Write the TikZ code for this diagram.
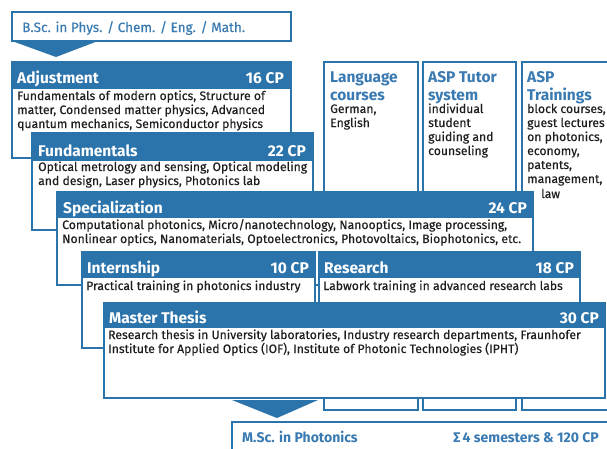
\documentclass[tikz,border=0pt]{standalone}
\usepackage{fontspec}
\setmainfont{Fira Sans}
\newfontfamily\medfont{Fira Sans}[FakeBold=0.35]
\definecolor{asp}{HTML}{2B73AB}
\definecolor{asptxt}{HTML}{3A7AB2}
\definecolor{bodytxt}{HTML}{1E1E1E}
\begin{document}
\begin{tikzpicture}[x=1pt,y=-1pt,
  frame/.style={draw=asp,line width=1.6pt,fill=white,anchor=north west,inner sep=0,outer sep=0},
  hdr/.style={fill=asp,draw=asp,line width=1.6pt,anchor=north west,inner sep=0,outer sep=0},
  ttl/.style={anchor=base west,inner sep=0,text=white,font=\bfseries\fontsize{15.5}{15.5}\selectfont},
  cp/.style={anchor=base east,inner sep=0,text=white,font=\bfseries\fontsize{15.5}{15.5}\selectfont},
  bd/.style={anchor=base west,inner sep=0,text=bodytxt,align=left,font=\medfont\fontsize{12.2}{14}\selectfont},
  ctl/.style={anchor=base west,inner sep=0,text=asptxt,align=left,font=\bfseries\fontsize{15.5}{18}\selectfont},
]
\useasboundingbox (0,0) rectangle (607,448);
% side columns (anchor base = baseline of the last line)
\node[frame,minimum width=94,minimum height=348] (lang) at (324,62) {};
\node[frame,minimum width=93,minimum height=348] (tutor) at (423,62) {};
\node[frame,minimum width=95,minimum height=348] (train) at (522,62) {};
\node[ctl] (langt) at (330,100) {Language\\courses};
\node[bd] (langb) at (330,127) {German,\\English};
\node[ctl] (tutt) at (428,100) {ASP Tutor\\system};
\node[bd] (tutb) at (428,155) {individual\\student\\guiding and\\counseling};
\node[ctl] (trt) at (527,100) {ASP\\Trainings};
\node[bd] (trb) at (527,183) {block courses,\\guest lectures\\on photonics,\\economy,\\patents,\\management,};
\node[bd] (trlaw) at (541,198) {law};
% BSc
\node[frame,minimum width=279,minimum height=29] (bsc) at (12,12) {};
\node[anchor=base west,inner sep=0,text=asptxt,font=\medfont\fontsize{13.5}{13.5}\selectfont] (bsct) at (22,32) {B.Sc. in Phys. / Chem. / Eng. / Math.};
\fill[asp] (bsc.south west) -- ++(86,0) -- ++(-42,16) -- cycle;
% Adjustment
\node[frame,minimum width=279,minimum height=96] (adj) at (12,62) {};
\node[hdr,minimum width=279,minimum height=26] (adjh) at (12,62) {};
\node[ttl] (adjt) at (17,83) {Adjustment};
\node[cp] (adjc) at (284,83) {16 CP};
\node[bd] (adjb) at (17,128) {Fundamentals of modern optics, Structure of\\matter, Condensed matter physics, Advanced\\quantum mechanics, Semiconductor physics};
% Fundamentals
\node[frame,minimum width=281,minimum height=97] (fun) at (32,133) {};
\node[hdr,minimum width=281,minimum height=27] (funh) at (32,133) {};
\node[ttl] (funt) at (38,156) {Fundamentals};
\node[cp] (func) at (306,156) {22 CP};
\node[bd] (funb) at (38,185) {Optical metrology and sensing, Optical modeling\\and design, Laser physics, Photonics lab};
% Specialization
\node[frame,minimum width=476,minimum height=93] (spe) at (57,192) {};
\node[hdr,minimum width=476,minimum height=25] (speh) at (57,192) {};
\node[ttl] (spet) at (63,213) {Specialization};
\node[cp] (spec) at (527,213) {24 CP};
\node[bd] (speb) at (62,243) {Computational photonics, Micro/nanotechnology, Nanooptics, Image processing,\\Nonlinear optics, Nanomaterials, Optoelectronics, Photovoltaics, Biophotonics, etc.};
% Internship
\node[frame,minimum width=233,minimum height=96] (int) at (82,252) {};
\node[hdr,minimum width=233,minimum height=25] (inth) at (82,252) {};
\node[ttl] (intt) at (87,273) {Internship};
\node[cp] (intc) at (309,273) {10 CP};
\node[bd] (intb) at (86,290) {Practical training in photonics industry};
% Research
\node[frame,minimum width=261,minimum height=96] (res) at (319,252) {};
\node[hdr,minimum width=261,minimum height=25] (resh) at (319,252) {};
\node[ttl] (rest) at (324,273) {Research};
\node[cp] (resc) at (574,273) {18 CP};
\node[bd] (resb) at (323,290) {Labwork training in advanced research labs};
% Master Thesis
\node[frame,minimum width=501,minimum height=95] (mt) at (104,303) {};
\node[hdr,minimum width=501,minimum height=24] (mth) at (104,303) {};
\node[ttl] (mtt) at (109,323) {Master Thesis};
\node[cp] (mtc) at (599,323) {30 CP};
\node[bd] (mtb) at (108,353) {Research thesis in University laboratories, Industry research departments, Fraunhofer\\Institute for Applied Optics (IOF), Institute of Photonic Technologies (IPHT)};
% MSc
\coordinate (arr2) at (232,400);
\fill[asp] (arr2) -- ++(86,0) -- ++(-41,18) -- cycle;
\node[frame,minimum width=380,minimum height=40] (msc) at (232,422) {};
\node[anchor=base west,inner sep=0,text=asptxt,font=\bfseries\fontsize{14}{14}\selectfont] (msct) at (242,442) {M.Sc. in Photonics};
\node[anchor=base east,inner sep=0,text=asptxt,font=\bfseries\fontsize{14}{14}\selectfont] (mscs) at (599,442) {Σ\,4 semesters \& 120 CP};
\end{tikzpicture}
\end{document}
